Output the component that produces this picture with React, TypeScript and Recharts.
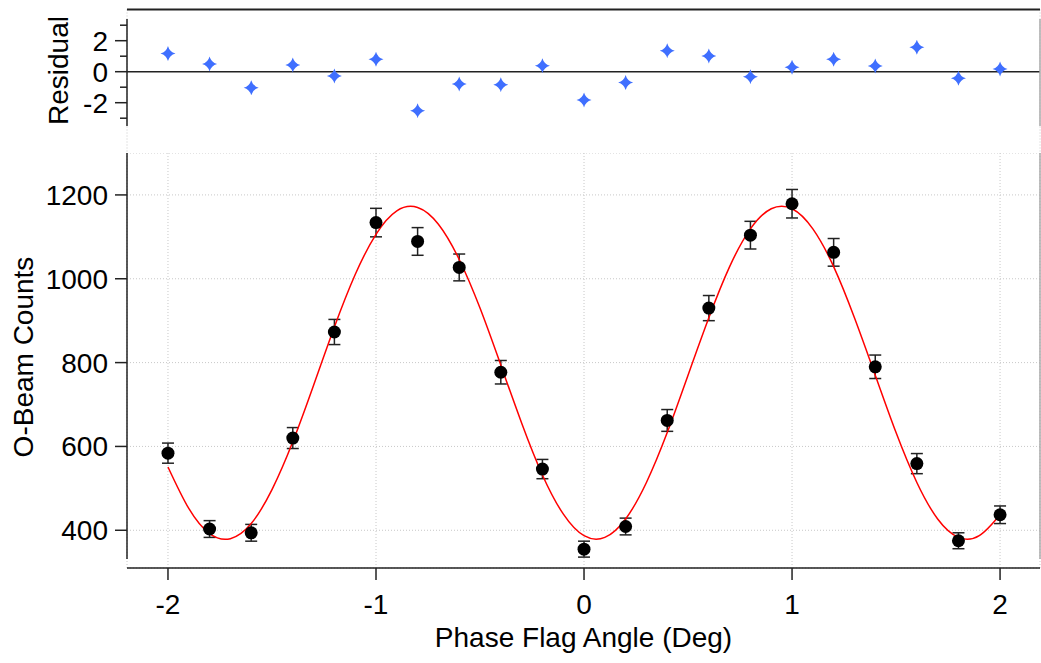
import React from 'react'
import {
  ComposedChart,
  Scatter,
  Line,
  XAxis,
  YAxis,
  CartesianGrid,
  ErrorBar,
  ReferenceLine,
} from 'recharts'

// measured phase flag angles (deg)
const angles = [-2, -1.8, -1.6, -1.4, -1.2, -1, -0.8, -0.6, -0.4, -0.2, 0, 0.2, 0.4, 0.6, 0.8, 1, 1.2, 1.4, 1.6, 1.8, 2]
const counts = [584, 403, 394, 620, 873, 1134, 1089, 1027, 777, 546, 355, 409, 662, 930, 1104, 1179, 1063, 790, 559, 375, 437]
const countErr = [24, 20, 20, 25, 30, 34, 33, 32, 28, 23, 19, 20, 26, 30, 33, 34, 33, 28, 24, 19, 21]
const residuals = [1.18, 0.49, -1.03, 0.43, -0.28, 0.8, -2.52, -0.8, -0.84, 0.39, -1.83, -0.69, 1.35, 1.01, -0.32, 0.28, 0.8, 0.37, 1.57, -0.43, 0.17]

// fit curve
const fitAngles = [
  -2, -1.9, -1.8, -1.7, -1.6, -1.5, -1.4, -1.3, -1.2, -1.1, -1, -0.9, -0.8, -0.7, -0.6, -0.5, -0.4, -0.3, -0.2, -0.1,
  0, 0.1, 0.2, 0.3, 0.4, 0.5, 0.6, 0.7, 0.8, 0.9, 1, 1.1, 1.2, 1.3, 1.4, 1.5, 1.6, 1.7, 1.8, 1.9, 2,
]
const fitCounts = [
  551, 452, 392, 380, 416, 497, 611, 746, 885, 1010, 1106, 1162, 1170, 1130, 1046, 930, 794, 656, 532, 439,
  387, 383, 427, 514, 633, 770, 907, 1029, 1119, 1167, 1167, 1119, 1029, 907, 770, 633, 514, 427, 383, 387, 437,
]

const xTicks = [-2, -1, 0, 1, 2]
const residualTicks = [-3, -2, -1, 0, 1, 2, 3]
const countTicks = [400, 600, 800, 1000, 1200]

const FONT = '"Liberation Sans", Arial, Helvetica, sans-serif'
const FONT_SIZE = 28
const X_DOMAIN: [number, number] = [-2.197, 2.192]
const RES_DOMAIN: [number, number] = [-5.245, 4.013]
const COUNT_DOMAIN: [number, number] = [310, 1300]
const AXIS = '#222'

const points = angles.map((x, i) => ({ x, y: counts[i], err: countErr[i] }))
const residualPoints = angles.map((x, i) => ({ x, y: residuals[i] }))
const fitLine = fitAngles.map((x, i) => ({ x, y: fitCounts[i] }))

function Star(props: any) {
  const { cx, cy } = props
  const r = 7.5
  const c = 1.6
  const d = `M${cx},${cy - r} Q${cx + c},${cy - c} ${cx + r},${cy} Q${cx + c},${cy + c} ${cx},${cy + r} Q${cx - c},${cy + c} ${cx - r},${cy} Q${cx - c},${cy - c} ${cx},${cy - r}Z`
  return <path d={d} fill="#3f6fff" />
}

function Dot(props: any) {
  return <circle cx={props.cx} cy={props.cy} r={6.5} fill="#000" />
}

function ResidualTick(props: any) {
  const { x, y, payload } = props
  const v = Number(payload.value)
  const major = Math.abs(v) % 2 === 0
  const edge = x + 7 + 12
  return (
    <g>
      <line x1={edge - (major ? 12 : 7)} x2={edge} y1={y} y2={y} stroke={AXIS} strokeWidth={1.5} />
      {major && (
        <text x={x} y={y} dy="0.36em" textAnchor="end" fontSize={FONT_SIZE} fontFamily={FONT} fill="#000">
          {v}
        </text>
      )}
    </g>
  )
}

function VerticalTitle({ text, cx, cy }: { text: string; cx: number; cy: number }) {
  return (
    <text
      x={cx}
      y={cy}
      dy="0.36em"
      transform={`rotate(-90 ${cx} ${cy})`}
      textAnchor="middle"
      fontSize={FONT_SIZE}
      fontFamily={FONT}
      fill="#000"
    >
      {text}
    </text>
  )
}

const tickStyle = { fontSize: FONT_SIZE, fill: '#000', fontFamily: FONT }

export default function App() {
  return (
    <div style={{ position: 'absolute', left: 0, top: 0, width: 1041, height: 663, background: '#fff' }}>
      <div style={{ position: 'absolute', left: 0, top: 0 }}>
        <ComposedChart width={1041} height={153} margin={{ top: 9.5, right: 1, bottom: 0, left: 0 }}>
          <CartesianGrid horizontal={false} stroke="#c8c8c8" strokeDasharray="1 2" />
          <XAxis
            type="number"
            dataKey="x"
            domain={X_DOMAIN}
            ticks={xTicks}
            allowDataOverflow
            height={0}
            tick={false}
            tickLine={false}
            axisLine={false}
          />
          <YAxis
            type="number"
            dataKey="y"
            domain={RES_DOMAIN}
            ticks={residualTicks}
            interval={0}
            allowDataOverflow
            width={127}
            axisLine={false}
            tickLine={false}
            tickSize={12}
            tickMargin={7}
            tick={<ResidualTick />}
            label={<VerticalTitle text="Residual" cx={58} cy={70.5} />}
          />
          <ReferenceLine y={RES_DOMAIN[1]} stroke={AXIS} strokeWidth={2} ifOverflow="visible" />
          <ReferenceLine y={0} stroke={AXIS} strokeWidth={1.5} />
          <ReferenceLine
            segment={[{ x: X_DOMAIN[0], y: 3.4 }, { x: X_DOMAIN[0], y: -3.5 }]}
            stroke={AXIS}
            strokeWidth={1.5}
            ifOverflow="visible"
          />
          <ReferenceLine
            segment={[{ x: X_DOMAIN[1], y: 3.4 }, { x: X_DOMAIN[1], y: -3.5 }]}
            stroke="#aaa"
            strokeWidth={1.5}
            ifOverflow="visible"
          />
          <Scatter data={residualPoints} shape={<Star />} isAnimationActive={false} />
        </ComposedChart>
      </div>
      <div style={{ position: 'absolute', left: 0, top: 153 }}>
        <ComposedChart width={1041} height={510} margin={{ top: 0, right: 1, bottom: 0, left: 0 }}>
          <CartesianGrid stroke="#c8c8c8" strokeDasharray="1 2" />
          <XAxis
            type="number"
            dataKey="x"
            domain={X_DOMAIN}
            ticks={xTicks}
            interval={0}
            allowDataOverflow
            height={95}
            tickSize={12}
            tickMargin={14}
            tick={tickStyle}
            stroke={AXIS}
            strokeWidth={1.5}
            label={{
              value: 'Phase Flag Angle (Deg)',
              position: 'insideBottom',
              offset: 16,
              fontSize: FONT_SIZE,
              fill: '#000',
              fontFamily: FONT,
            }}
          />
          <YAxis
            type="number"
            dataKey="y"
            domain={COUNT_DOMAIN}
            ticks={countTicks}
            interval={0}
            allowDataOverflow
            width={127}
            axisLine={false}
            tickSize={12}
            tickMargin={7}
            tick={tickStyle}
            tickLine={{ stroke: AXIS, strokeWidth: 1.5 }}
            label={<VerticalTitle text="O-Beam Counts" cx={23} cy={204} />}
          />
          <ReferenceLine
            segment={[{ x: X_DOMAIN[0], y: COUNT_DOMAIN[1] }, { x: X_DOMAIN[0], y: 331.5 }]}
            stroke={AXIS}
            strokeWidth={1.5}
            ifOverflow="visible"
          />
          <ReferenceLine
            segment={[{ x: X_DOMAIN[1], y: COUNT_DOMAIN[1] }, { x: X_DOMAIN[1], y: 331.5 }]}
            stroke="#aaa"
            strokeWidth={1.5}
            ifOverflow="visible"
          />
          <Scatter data={points} shape={<Dot />} isAnimationActive={false}>
            <ErrorBar dataKey="err" direction="y" width={6} stroke={AXIS} strokeWidth={1.5} />
          </Scatter>
          <Line
            data={fitLine}
            dataKey="y"
            type="natural"
            stroke="#ff0000"
            strokeWidth={1.5}
            dot={false}
            activeDot={false}
            isAnimationActive={false}
          />
        </ComposedChart>
      </div>
    </div>
  )
}
